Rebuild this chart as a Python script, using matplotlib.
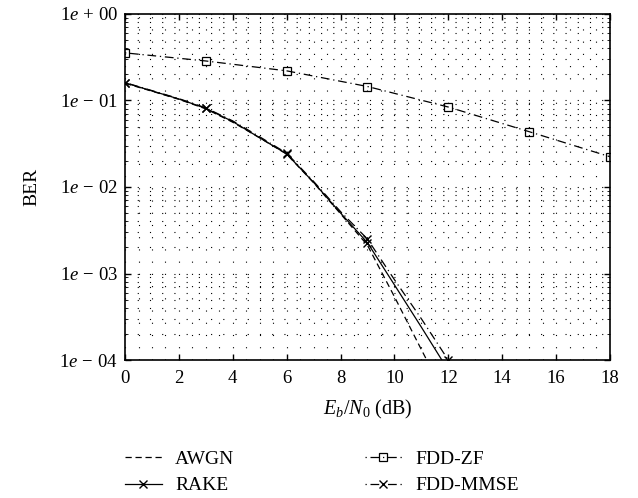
import matplotlib
matplotlib.use('Agg')
import matplotlib.pyplot as plt
from matplotlib.ticker import FixedLocator, LogLocator, NullFormatter, MultipleLocator

plt.rcParams['font.family'] = 'Liberation Serif'
plt.rcParams['mathtext.fontset'] = 'custom'
plt.rcParams['mathtext.rm'] = 'Liberation Serif'
plt.rcParams['mathtext.it'] = 'Liberation Serif:italic'

# Eb/N0 (dB)
snr = [0, 1, 2, 3, 4, 5, 6, 7, 8, 9, 10, 11, 12]
awgn = [0.158, 0.128, 0.103, 0.080, 0.056, 0.037, 0.0240, 0.0112, 0.0049, 0.00212, 0.00054, 0.000132, 0.000033]
rake = [0.160, 0.129, 0.104, 0.081, 0.057, 0.037, 0.0241, 0.0113, 0.0050, 0.00227, 0.00074, 0.00024, 0.000076]
mmse = [0.161, 0.130, 0.105, 0.082, 0.058, 0.038, 0.0246, 0.0116, 0.0052, 0.00250, 0.00085, 0.00030, 0.000100]

snr_zf = [0, 3, 6, 9, 12, 15, 18]
zf = [0.355, 0.286, 0.220, 0.145, 0.084, 0.0436, 0.0224]

ytick_labels = [r'$1e\,-\,04$', r'$1e\,-\,03$', r'$1e\,-\,02$', r'$1e\,-\,01$', r'$1e\,+\,00$']

fig = plt.figure(figsize=(6.38, 4.98), dpi=100)
ax = fig.add_axes([0.196, 0.277, 0.760, 0.695])

dashdot = (0, (1, 3, 7, 3))
ax.plot(snr, awgn, color='k', lw=0.9, ls=(0, (5, 3)), label='AWGN')
ax.plot(snr, rake, color='k', lw=0.9, ls='-', marker='x', ms=6, mew=1.0,
        markevery=[0, 3, 6, 9, 12], label='RAKE')
ax.plot(snr_zf, zf, color='k', lw=0.9, ls=dashdot, marker='s', ms=6,
        mfc='none', mew=0.9, label='FDD-ZF')
ax.plot(snr, mmse, color='k', lw=0.9, ls=dashdot, marker='x', ms=6, mew=1.0,
        markevery=[0, 3, 6, 9, 12], label='FDD-MMSE')

ax.set_yscale('log')
ax.set_xlim(0, 18)
ax.set_ylim(1e-4, 1)
ax.xaxis.set_major_locator(MultipleLocator(2))
ax.xaxis.set_minor_locator(MultipleLocator(0.5))
ax.yaxis.set_major_locator(FixedLocator([1e-4, 1e-3, 1e-2, 1e-1, 1]))
ax.yaxis.set_minor_locator(LogLocator(base=10, subs=range(2, 10)))
ax.yaxis.set_minor_formatter(NullFormatter())
ax.set_yticklabels(ytick_labels)

ax.grid(True, which='both', color='k', lw=0.8, ls=(0, (1, 10)))
ax.tick_params(which='major', direction='in', top=True, right=True, length=4,
               labelsize=13.5, width=1, pad=7)
ax.tick_params(axis='y', which='minor', direction='in', left=True, right=True, length=2)
ax.tick_params(axis='y', which='major', pad=5)
ax.tick_params(axis='x', which='minor', length=0)
for s in ax.spines.values():
    s.set_linewidth(1.2)

ax.set_xlabel(r'$E_b/N_0$ (dB)', fontsize=14.5, labelpad=8)
ax.set_ylabel('BER', fontsize=14, labelpad=14)

ax.legend(loc='upper left', bbox_to_anchor=(0.180, 0.115), bbox_transform=fig.transFigure,
          ncol=2, frameon=False, fontsize=14, handlelength=1.9, columnspacing=6.7,
          labelspacing=0.45, handletextpad=0.7, borderpad=0)

fig.savefig('out.png', dpi=100)
